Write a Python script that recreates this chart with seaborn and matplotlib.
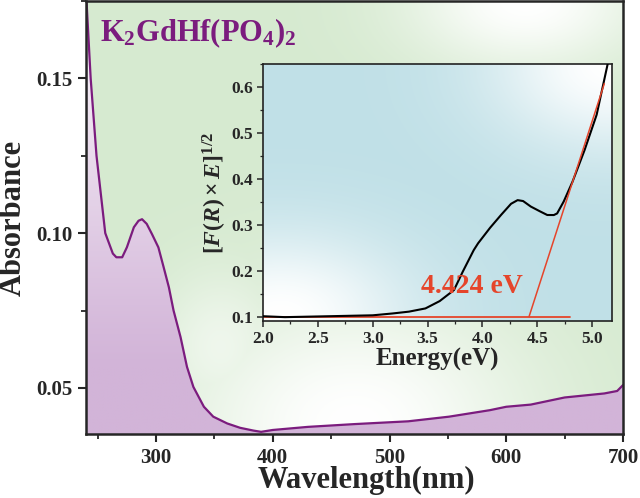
import numpy as np
import pandas as pd
import matplotlib
matplotlib.use("Agg")
import matplotlib.pyplot as plt
import seaborn as sns
from matplotlib.ticker import MultipleLocator

# ---------------- data ----------------
wavelength = [240, 244, 249, 256.5, 263, 266, 271, 275, 281, 285, 288, 292, 296.5,
              302, 306.5, 311, 315, 321, 326.5, 332, 341, 349, 361, 372, 383.5, 390,
              400, 430, 470, 516, 551, 586, 600, 621, 650, 684, 695, 700]
absorbance = [0.178, 0.150, 0.125, 0.100, 0.0934, 0.0922, 0.0922, 0.0954, 0.1019,
              0.1040, 0.1045, 0.1030, 0.0997, 0.0954, 0.0890, 0.0825, 0.0750, 0.0664,
              0.0568, 0.0503, 0.0439, 0.0407, 0.0385, 0.0371, 0.0362, 0.0358, 0.0364,
              0.0374, 0.0383, 0.0392, 0.0407, 0.0428, 0.0439, 0.0446, 0.0469, 0.0482,
              0.0490, 0.0509]

energy = [2.0, 2.2, 2.4, 2.6, 2.8, 3.0, 3.18, 3.33, 3.48, 3.61, 3.74, 3.82, 3.92,
          3.96, 4.07, 4.17, 4.26, 4.32, 4.37, 4.44, 4.52, 4.59, 4.65, 4.68, 4.74,
          4.82, 4.93, 5.04, 5.14]
kubelka = [0.101, 0.099, 0.100, 0.101, 0.102, 0.103, 0.107, 0.111, 0.118, 0.134,
           0.158, 0.198, 0.245, 0.260, 0.294, 0.322, 0.346, 0.354, 0.352, 0.340,
           0.330, 0.3216, 0.3215, 0.325, 0.351, 0.394, 0.463, 0.540, 0.650]

fit_energy = [4.424, 5.11]
fit_value = [0.100, 0.608]
base_energy = [2.0, 4.8]
base_value = [0.100, 0.100]
band_gap_label = "4.424 eV"
compound = r"K$_2$GdHf(PO$_4$)$_2$"

# ---------------- style ----------------
sns.set_theme(style="ticks")
plt.rcParams["font.family"] = ["Liberation Serif", "DejaVu Serif"]
plt.rcParams["font.weight"] = "bold"
plt.rcParams["mathtext.fontset"] = "custom"
plt.rcParams["mathtext.rm"] = "Liberation Serif:bold"
plt.rcParams["mathtext.bf"] = "Liberation Serif:bold"
plt.rcParams["mathtext.it"] = "Liberation Serif:bold:italic"
plt.rcParams["axes.unicode_minus"] = False

PURPLE = "#7B1C7E"
RED = "#E5452B"
GREEN = np.array([214, 234, 208]) / 255
BLUE = np.array([192, 224, 231]) / 255
LILAC = np.array([210, 180, 216]) / 255


def radial_bg(base, blobs, n=300):
    yy, xx = np.mgrid[0:1:n * 1j, 0:1:n * 1j]
    w = np.zeros_like(xx)
    for cx, cy, sx, sy, a in blobs:
        w = np.maximum(w, a * np.exp(-(((xx - cx) / sx) ** 2 + ((yy - cy) / sy) ** 2)))
    img = base[None, None, :] * (1 - w[..., None]) + w[..., None]
    return img


fig = plt.figure(figsize=(6.4, 4.98), dpi=100)
fig.patch.set_facecolor("white")
ax = fig.add_axes([86 / 640, 1 - 434 / 498, 537 / 640, 433 / 498])

# main gradient background
bg = radial_bg(GREEN, [(0.50, 0.02, 0.33, 0.30, 1.0),
                       (0.82, 1.0, 0.22, 0.16, 1.0),
                       (0.25, 0.20, 0.12, 0.18, 0.6)])
ax.imshow(bg, extent=(0, 1, 0, 1), transform=ax.transAxes, origin="lower",
          aspect="auto", zorder=0)

df = pd.DataFrame({"wl": wavelength, "ab": absorbance})
x0, x1, y0, y1 = 240, 700, 0.0351, 0.175
ax.set_xlim(x0, x1)
ax.set_ylim(y0, y1)

poly = ax.fill_between(df["wl"], df["ab"], y0, facecolor="none", edgecolor="none")
yy, xx = np.mgrid[0:1:300j, 0:1:300j]
wfill = np.clip((yy - 0.15) / 0.85, 0, 1) ** 1.1
fill_img = LILAC[None, None, :] * (1 - wfill[..., None]) + wfill[..., None]
im = ax.imshow(fill_img, extent=(x0, x1, y0, 0.18), origin="lower", aspect="auto",
               zorder=1)
im.set_clip_path(poly.get_paths()[0], transform=ax.transData)
ax.set_xlim(x0, x1)
ax.set_ylim(y0, y1)

sns.lineplot(data=df, x="wl", y="ab", ax=ax, color=PURPLE, lw=1.6, zorder=3,
             sort=False, estimator=None)

ax.set_xlabel("Wavelength(nm)", fontsize=22, fontweight="bold")
ax.set_ylabel("Absorbance", fontsize=22, fontweight="bold")
ax.xaxis.set_label_coords(0.522, -0.108)
ax.xaxis.label.set_va("center")
ax.yaxis.set_label_coords(-0.135, 0.5)
ax.yaxis.label.set_va("center")
ax.set_xticks([300, 400, 500, 600, 700])
ax.set_yticks([0.05, 0.10, 0.15])
ax.set_yticklabels(["0.05", "0.10", "0.15"])
ax.xaxis.set_minor_locator(MultipleLocator(50))
ax.yaxis.set_minor_locator(MultipleLocator(0.025))
ax.tick_params(which="major", direction="out", length=6, width=1.5,
               labelsize=15, pad=4)
ax.tick_params(which="minor", direction="out", length=3.5, width=1.3)
for lab in ax.get_xticklabels() + ax.get_yticklabels():
    lab.set_fontweight("bold")
for s in ax.spines.values():
    s.set_linewidth(1.8)
    s.set_visible(True)
    s.set_zorder(5)

ax.text(0.026, 0.925, compound, transform=ax.transAxes, fontsize=22,
        color=PURPLE, fontweight="bold", va="center", ha="left", zorder=6)

# ---------------- inset ----------------
ins = fig.add_axes([263 / 640, 1 - 321 / 498, 349 / 640, 256.7 / 498])
ibg = radial_bg(BLUE, [(0.05, 0.02, 0.38, 0.32, 1.0),
                       (1.0, 1.0, 0.35, 0.33, 1.0)])
ins.imshow(ibg, extent=(0, 1, 0, 1), transform=ins.transAxes, origin="lower",
           aspect="auto", zorder=0)
ins.set_xlim(2.0, 5.18)
ins.set_ylim(0.0906, 0.65)

sns.lineplot(x=base_energy, y=base_value, ax=ins, color=RED, lw=1.3, zorder=2)
sns.lineplot(x=energy, y=kubelka, ax=ins, color="black", lw=1.5, zorder=3,
             sort=False, estimator=None)
sns.lineplot(x=fit_energy, y=fit_value, ax=ins, color=RED, lw=1.1, zorder=4)

ins.text(3.9, 0.165, band_gap_label, color=RED, fontsize=20, fontweight="bold",
         ha="center", va="center", zorder=5)

ins.set_xticks([2.0, 2.5, 3.0, 3.5, 4.0, 4.5, 5.0])
ins.set_xticklabels(["2.0", "2.5", "3.0", "3.5", "4.0", "4.5", "5.0"])
ins.set_yticks([0.1, 0.2, 0.3, 0.4, 0.5, 0.6])
ins.set_yticklabels(["0.1", "0.2", "0.3", "0.4", "0.5", "0.6"])
ins.xaxis.set_minor_locator(MultipleLocator(0.25))
ins.yaxis.set_minor_locator(MultipleLocator(0.05))
ins.tick_params(which="major", direction="out", length=4, width=1.1,
                labelsize=12.5, pad=3)
ins.tick_params(which="minor", direction="out", length=2.5, width=0.9)
for lab in ins.get_xticklabels() + ins.get_yticklabels():
    lab.set_fontweight("bold")
for s in ins.spines.values():
    s.set_linewidth(1.2)
    s.set_color("#222222")
ins.set_xlabel("Energy(eV)", fontsize=18, fontweight="bold", labelpad=1)
ins.set_ylabel(r"$[F(R)\times E]^{1/2}$", fontsize=17, labelpad=2)

fig.savefig("out.png", dpi=100)
